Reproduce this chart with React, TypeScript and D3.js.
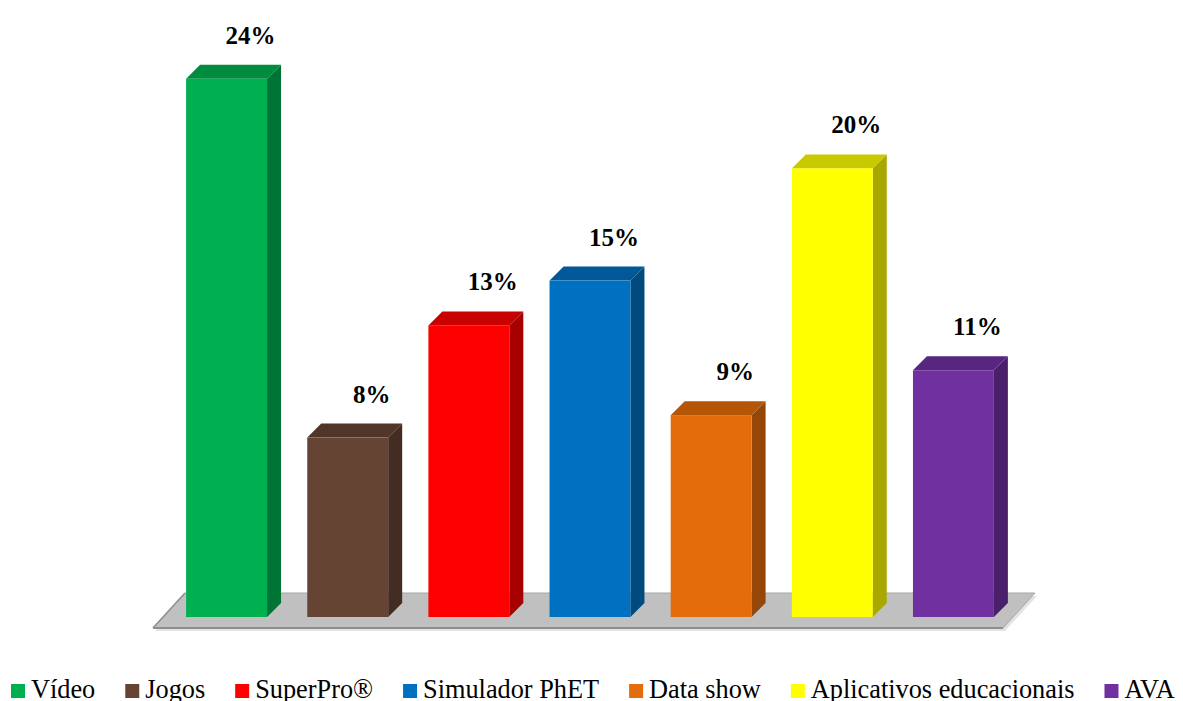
import React, { useEffect, useRef } from "react";
import * as d3 from "d3";

// Recursos utilizados (percentual de respostas)
const categories = [
  "Vídeo",
  "Jogos",
  "SuperPro®",
  "Simulador PhET",
  "Data show",
  "Aplicativos educacionais",
  "AVA",
];
const values = [24, 8, 13, 15, 9, 20, 11];
const colors = ["#00B050", "#654433", "#FF0000", "#0070C0", "#E46C0A", "#FFFF00", "#7030A0"];

const W = 1183;
const H = 701;
const FONT = "'Times New Roman', 'Liberation Serif', serif";

function shade(c: string, f: number): string {
  const rgb = d3.rgb(c);
  return d3.rgb(rgb.r * f, rgb.g * f, rgb.b * f).formatHex();
}

export default function App() {
  const ref = useRef<SVGSVGElement | null>(null);

  useEffect(() => {
    const svg = d3.select(ref.current!);
    svg.selectAll("*").remove();

    const base = 617; // front bottom edge of the bars
    const depth = 14; // 3D offset of bar top / side faces

    const x = d3
      .scaleBand<string>()
      .domain(categories)
      .range([166, 1014])
      .paddingInner(0.332)
      .paddingOuter(0.166);
    const y = d3.scaleLinear().domain([0, 25]).range([base, base - 25 * 22.43]);

    const [x0, x1] = x.range();

    // floor
    const fl = x0 - 13;
    const fr = x1 - 11;
    const fFront = base + 11;
    const fBack = base - 24;
    const skew = 32;
    const floor = svg.append("g");
    floor
      .append("path")
      .attr(
        "d",
        `M${fl + 2},${fFront + 3}L${fl + skew + 2},${fBack + 3}L${fr + skew + 2},${fBack + 3}L${fr + 2},${fFront + 3}Z`
      )
      .attr("fill", "#E3E3E3");
    floor
      .append("path")
      .attr("d", `M${fl},${fFront}L${fl + skew},${fBack}L${fr + skew},${fBack}L${fr},${fFront}Z`)
      .attr("fill", "#C0C0C0")
      .attr("stroke", "#A6A6A6")
      .attr("stroke-width", 1);
    floor
      .append("line")
      .attr("x1", fl)
      .attr("x2", fr)
      .attr("y1", fFront)
      .attr("y2", fFront)
      .attr("stroke", "#8E8E8E")
      .attr("stroke-width", 2);
    floor
      .append("line")
      .attr("x1", fl)
      .attr("x2", fl + skew)
      .attr("y1", fFront)
      .attr("y2", fBack)
      .attr("stroke", "#8E8E8E")
      .attr("stroke-width", 1.5);

    // bars
    const bw = x.bandwidth();
    const bars = svg
      .append("g")
      .selectAll("g")
      .data(categories.map((c, i) => ({ c, v: values[i], col: colors[i] })))
      .join("g");

    // side face
    bars
      .append("path")
      .attr("d", (d) => {
        const l = x(d.c)! + bw;
        const t = y(d.v);
        return `M${l},${t}L${l + depth},${t - depth}L${l + depth},${base - depth}L${l},${base}Z`;
      })
      .attr("fill", (d) => shade(d.col, 0.66));
    // top face
    bars
      .append("path")
      .attr("d", (d) => {
        const l = x(d.c)!;
        const t = y(d.v);
        return `M${l},${t}L${l + depth},${t - depth}L${l + bw + depth},${t - depth}L${l + bw},${t}Z`;
      })
      .attr("fill", (d) => shade(d.col, 0.79));
    // front face
    bars
      .append("rect")
      .attr("x", (d) => x(d.c)!)
      .attr("y", (d) => y(d.v))
      .attr("width", bw)
      .attr("height", (d) => base - y(d.v))
      .attr("fill", (d) => d.col);

    // value labels
    bars
      .append("text")
      .attr("x", (d) => x(d.c)! + bw / 2 + 24)
      .attr("y", (d) => y(d.v) - 35)
      .attr("text-anchor", "middle")
      .attr("font-family", FONT)
      .attr("font-weight", "bold")
      .attr("font-size", 25)
      .attr("fill", "#000")
      .text((d) => `${d.v}%`);

    // legend
    const legend = svg.append("g");
    const ly = 698;
    let cx = 11;
    categories.forEach((c, i) => {
      legend
        .append("rect")
        .attr("x", cx)
        .attr("y", ly - 14)
        .attr("width", 14)
        .attr("height", 14)
        .attr("fill", colors[i]);
      const t = legend
        .append("text")
        .attr("x", cx + 20)
        .attr("y", ly)
        .attr("font-family", FONT)
        .attr("font-size", 26.3)
        .attr("fill", "#000")
        .text(c);
      const w = (t.node() as SVGTextElement).getComputedTextLength();
      cx += 20 + w + 30;
    });
  }, []);

  return (
    <svg
      ref={ref}
      width={W}
      height={H}
      style={{ position: "absolute", left: 0, top: 0, display: "block", background: "#fff" }}
    />
  );
}
